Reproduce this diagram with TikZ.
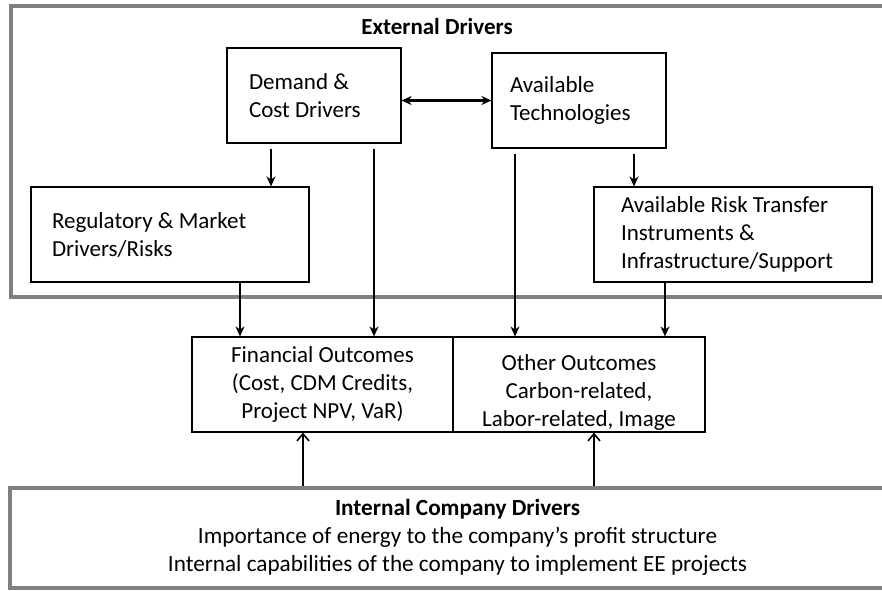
\documentclass[tikz,border=0pt]{standalone}
\usepackage{fontspec}
\setmainfont{Carlito}
\usepackage{tikz}
\usetikzlibrary{arrows.meta}
\definecolor{frameGray}{RGB}{128,128,128}

\begin{document}
\begin{tikzpicture}[x=0.5pt,y=-0.5pt,
  box/.style={draw,line width=0.6pt,minimum height=47.5pt,font=\fontsize{11.5}{14}\selectfont},
  lbox/.style={box,align=flush left},
  frame/.style={draw=frameGray,line width=2pt,inner sep=0pt},
  arrow/.style={-{Stealth[length=5pt,width=4.5pt]},line width=1.1pt,shorten <=2.5pt},
  uparrow/.style={-{Straight Barb[length=3.5pt,width=6pt]},line width=0.8pt},
  biarrow/.style={{Stealth[length=5pt,width=4.5pt]}-{Stealth[length=5pt,width=4.5pt]},line width=1.1pt}
]
\useasboundingbox (0,0) rectangle (882,590);
\clip (0,0) rectangle (882,590);
\fill[white] (0,0) rectangle (882,590);

% outer frames
\node[frame,minimum width=447.25pt,minimum height=145.5pt] (ext) at (457.75,151.5) {};
\node[font=\fontsize{11.5}{14}\selectfont\bfseries] (exttitle) at (437,27) {External Drivers};
\node[frame,minimum width=447.5pt,minimum height=50pt,align=center,
  font=\fontsize{11.6}{14}\selectfont] (intern) at (457.5,537.5)
  {\textbf{Internal Company Drivers}\\
   Importance of energy to the company’s profit structure\\
   Internal capabilities of the company to implement EE projects};

% external drivers
\node[lbox,minimum width=87pt,inner xsep=11pt,text width=65pt] (demand) at (314,95.5) {Demand \&\\Cost Drivers};
\node[lbox,minimum width=87pt,inner xsep=9pt,text width=69pt] (tech) at (579,100.5) {Available\\Technologies};
\node[lbox,minimum width=139pt,inner xsep=10.5pt,text width=118pt] (reg) at (170,234.5) {Regulatory \& Market\\Drivers/Risks};
\node[lbox,minimum width=139pt,inner xsep=13.5pt,text width=112pt] (risk) at (733,234.5) {Available Risk Transfer\\Instruments \&\\Infrastructure/Support};

% outcomes
\node[box,minimum width=130.5pt,align=center] (fin) at (322.5,384.5) {Financial Outcomes\\(Cost, CDM Credits,\\Project NPV, VaR)};
\node[box,minimum width=126pt] (other) at (579,384.5)
  {\raisebox{-7.4pt}[0pt][0pt]{\begin{tabular}{@{}c@{}}Other Outcomes\\Carbon-related,\\Labor-related, Image\end{tabular}}};

% connectors
\draw[biarrow] (demand.east |- tech.west) -- (tech.west);
\draw[arrow] ([xshift=-21.5pt]demand.south) -- ([xshift=50.5pt]reg.north);
\draw[arrow] ([xshift=30pt]demand.south) -- ([xshift=25.75pt]fin.north);
\draw[arrow] ([xshift=27.5pt]tech.south) -- ([xshift=-49.5pt]risk.north);
\draw[arrow] ([xshift=-32pt]tech.south) -- ([xshift=-32pt]other.north);
\draw[arrow,shorten <=0pt] ([xshift=35pt]reg.south) -- ([xshift=-41.25pt]fin.north);
\draw[arrow,shorten <=0pt] ([xshift=-34pt]risk.south) -- ([xshift=43pt]other.north);
\draw[uparrow] ([xshift=-77.25pt]intern.north) -- ([xshift=-9.75pt]fin.south);
\draw[uparrow] ([xshift=68.25pt]intern.north) -- ([xshift=7.5pt]other.south);
\end{tikzpicture}
\end{document}
